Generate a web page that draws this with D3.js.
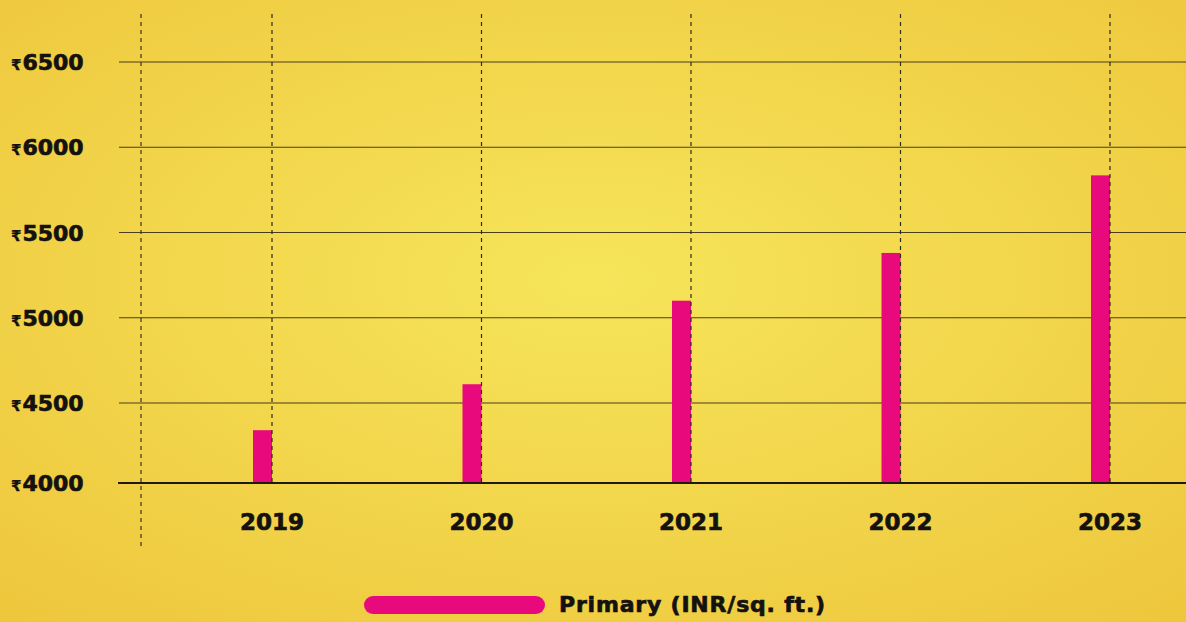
<!DOCTYPE html>
<html>
<head>
<meta charset="utf-8">
<script src="https://cdn.jsdelivr.net/npm/d3@7"></script>
<style>
  body { margin: 0; overflow: hidden; }
  text { font-family: "DejaVu Sans", sans-serif; font-weight: bold; fill: #141210; stroke: #141210; stroke-width: 0.7px; }
</style>
</head>
<body>
<div id="chart"></div>
<script>
// data
var years = ["2019", "2020", "2021", "2022", "2023"];
var primary = [4330, 4610, 5100, 5380, 5835];
var yTicks = [4000, 4500, 5000, 5500, 6000, 6500];
var legendLabel = "Primary (INR/sq. ft.)";

var width = 1186, height = 622;

var svg = d3.select("#chart")
    .append("svg")
    .attr("width", width)
    .attr("height", height);

// background
var grad = svg.append("defs").append("radialGradient")
    .attr("id", "bg")
    .attr("cx", "50%").attr("cy", "45%").attr("r", "75%");
grad.append("stop").attr("offset", "0%").attr("stop-color", "#f6e55a");
grad.append("stop").attr("offset", "100%").attr("stop-color", "#eec63c");
svg.append("rect").attr("width", width).attr("height", height).attr("fill", "url(#bg)");

// scales
var y = d3.scaleLinear()
    .domain([4000, 4500, 6500])
    .range([483, 403, 62]);

var x = d3.scalePoint()
    .domain(years)
    .range([272, 1110]);

var barW = 19;

// gridlines
svg.append("g")
    .selectAll("line")
    .data(yTicks.filter(d => d > 4000))
    .enter()
    .append("line")
    .attr("x1", 119).attr("x2", width)
    .attr("y1", d => y(d)).attr("y2", d => y(d))
    .attr("stroke", "#4a3d1c")
    .attr("stroke-width", 1.2);

// left dashed line
svg.append("line")
    .attr("x1", 141).attr("x2", 141)
    .attr("y1", 14).attr("y2", 548)
    .attr("stroke", "#3a3320")
    .attr("stroke-width", 1.2)
    .attr("stroke-dasharray", "4,4");

// bars
svg.selectAll(".bar")
    .data(primary)
    .enter()
    .append("rect")
    .attr("class", "bar")
    .attr("x", (d, i) => x(years[i]) - barW)
    .attr("y", d => y(d))
    .attr("width", barW)
    .attr("height", d => y(4000) - y(d))
    .attr("fill", "#e8097c");

// category dashed lines
svg.append("g")
    .selectAll("line")
    .data(years)
    .enter()
    .append("line")
    .attr("x1", d => x(d)).attr("x2", d => x(d))
    .attr("y1", 14).attr("y2", y(4000))
    .attr("stroke", "#2e2a1c")
    .attr("stroke-width", 1.2)
    .attr("stroke-dasharray", "4,4");

// baseline
svg.append("line")
    .attr("x1", 118).attr("x2", width)
    .attr("y1", y(4000)).attr("y2", y(4000))
    .attr("stroke", "#1e1a10")
    .attr("stroke-width", 2.2);

// y labels
var yl = svg.append("g")
    .selectAll("text")
    .data(yTicks)
    .enter()
    .append("text")
    .attr("x", 11)
    .attr("y", d => y(d) + 8);
yl.append("tspan")
    .style("font-size", "15px")
    .style("stroke-width", "0.3px")
    .text("₹");
yl.append("tspan")
    .attr("dx", 1)
    .style("font-size", "22px")
    .text(d => d);

// x labels
svg.append("g")
    .selectAll("text")
    .data(years)
    .enter()
    .append("text")
    .attr("x", d => x(d))
    .attr("y", 530)
    .attr("text-anchor", "middle")
    .style("font-size", "23px")
    .text(d => d);

// legend
svg.append("rect")
    .attr("x", 364).attr("y", 596)
    .attr("width", 181).attr("height", 18)
    .attr("rx", 9)
    .attr("fill", "#e8097c");
svg.append("text")
    .attr("x", 559).attr("y", 612)
    .style("font-size", "22px")
    .style("letter-spacing", "0.8px")
    .text(legendLabel);
</script>
</body>
</html>
